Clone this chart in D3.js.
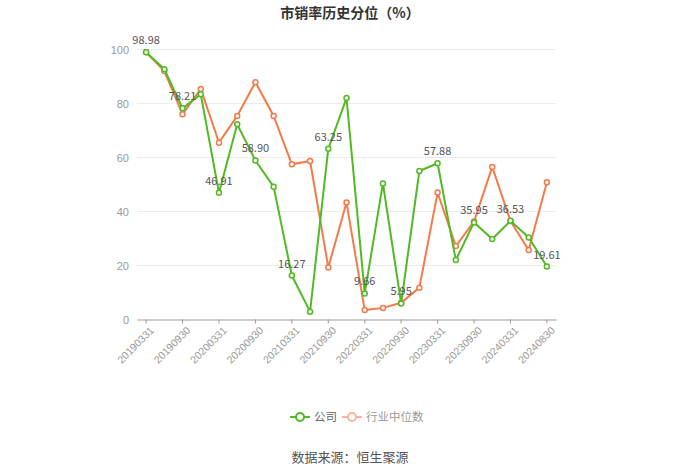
<!DOCTYPE html>
<html><head><meta charset="utf-8">
<script src="https://cdn.jsdelivr.net/npm/d3@7"></script>
<style>body{margin:0;background:#fff;}svg{display:block;font-family:"Noto Sans CJK SC","Noto Sans",sans-serif;}</style>
</head><body>
<svg id="c" width="700" height="473"></svg>
<script>
const dates = ["20190331","20190630","20190930","20191231","20200331","20200630","20200930","20201231","20210331","20210630","20210930","20211231","20220331","20220630","20220930","20221231","20230331","20230630","20230930","20231231","20240331","20240630","20240830"];
const company = [98.98,92.7,78.21,83.4,46.91,72.3,58.90,49.2,16.27,2.9,63.25,82.0,9.66,50.4,5.95,55.0,57.88,22.0,35.95,29.8,36.53,30.4,19.61];
const industry = [98.98,92.0,76.0,85.4,65.5,75.4,87.9,75.4,57.5,58.7,19.3,43.3,3.5,4.3,6.2,11.8,47.0,27.2,36.3,56.5,36.5,25.7,50.8];
const yTicks = [0,20,40,60,80,100];
const seriesNames = ["公司","行业中位数"];
const colors = ["#52b925","#f47a4a"];

const svg = d3.select("#c");
const pL = 137, pR = 556, pT = 49.5, pB = 319.5;
const x = d3.scaleBand().domain(dates).range([pL,pR]);
const y = d3.scaleLinear().domain([0,100]).range([pB,pT]);

svg.append("text").attr("x",350).attr("y",18).attr("text-anchor","middle")
  .attr("font-size",14).attr("font-weight","bold").attr("fill","#333").text("市销率历史分位（%）");

// grid
svg.append("g").selectAll("line").data(yTicks.filter(d=>d>0)).join("line")
  .attr("x1",pL).attr("x2",pR).attr("y1",d=>y(d)).attr("y2",d=>y(d))
  .attr("stroke","#ececec").attr("stroke-width",1);

// y axis
const ya = svg.append("g").attr("transform",`translate(${pL},0)`)
  .call(d3.axisLeft(y).tickValues(yTicks).tickSize(0).tickPadding(8));
ya.select(".domain").remove();
ya.selectAll("text").attr("fill","#999").attr("font-size",11);

// x axis
const labeled = dates.filter((d,i)=>i%2===0);
const xa = svg.append("g").attr("transform",`translate(0,${pB})`)
  .call(d3.axisBottom(x).tickValues(labeled).tickSize(4).tickSizeOuter(0).tickPadding(4));
xa.select(".domain").attr("stroke","#999");
xa.selectAll(".tick line").attr("stroke","#999");
xa.selectAll("text").attr("fill","#999").attr("font-size",10.5)
  .attr("text-anchor","end").attr("dx","-0.2em").attr("dy","0.6em")
  .attr("transform","rotate(-45)");

const cx = d => x(d) + x.bandwidth()/2;
const line = d3.line().x((d,i)=>cx(dates[i])).y(d=>y(d));

[industry, company].forEach((vals,k)=>{
  const col = k===0 ? colors[1] : colors[0];
  svg.append("path").datum(vals).attr("d",line).attr("fill","none")
    .attr("stroke",col).attr("stroke-width",2);
  svg.append("g").selectAll("circle").data(vals).join("circle")
    .attr("cx",(d,i)=>cx(dates[i])).attr("cy",d=>y(d)).attr("r",2.5)
    .attr("fill","#fff").attr("stroke",col).attr("stroke-width",1.5);
});

// labels on company
svg.append("g").selectAll("text").data(company.map((v,i)=>({v,i})).filter(d=>d.i%2===0)).join("text")
  .attr("x",d=>cx(dates[d.i])).attr("y",d=>y(d.v)-8)
  .attr("text-anchor","middle").attr("font-size",11).attr("fill","#555")
  .text(d=>d.v.toFixed(2));

// legend
const lg = svg.append("g");
const items = [{n:seriesNames[0],c:colors[0],x:290,tc:"#666"},{n:seriesNames[1],c:"#f7b59b",x:342,tc:"#999"}];
items.forEach(it=>{
  lg.append("line").attr("x1",it.x).attr("x2",it.x+20).attr("y1",417).attr("y2",417).attr("stroke",it.c).attr("stroke-width",2);
  lg.append("circle").attr("cx",it.x+10).attr("cy",417).attr("r",4).attr("fill","#fff").attr("stroke",it.c).attr("stroke-width",2);
  lg.append("text").attr("x",it.x+24).attr("y",421).attr("font-size",11.5).attr("fill",it.tc).text(it.n);
});

svg.append("text").attr("x",350).attr("y",462).attr("text-anchor","middle")
  .attr("font-size",13).attr("fill","#555").text("数据来源：恒生聚源");
</script>
</body></html>
